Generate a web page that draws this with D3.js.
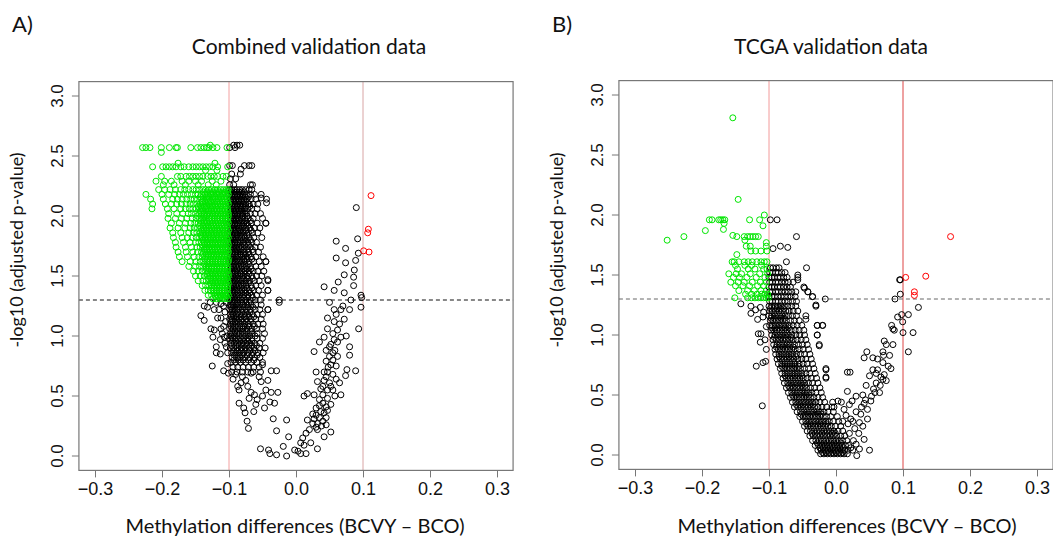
<!DOCTYPE html>
<html>
<head>
<meta charset="utf-8">
<script src="https://cdn.jsdelivr.net/npm/d3@7"></script>
<style>
  body { margin: 0; background: #fff; }
  svg { display: block; }
</style>
</head>
<body>
<div id="chart"></div>
<script>
// tick values shared by both panels
var xTicks = [-0.3, -0.2, -0.1, 0.0, 0.1, 0.2, 0.3];
var yTicks = [0, 0.5, 1, 1.5, 2, 2.5, 3];
var cutX = [-0.1, 0.1];
var cutY = 1.3;

// ---- panel A : combined validation data ----
// rows of points: [y, [x, x, ...]]
var aGreenRows = [
  [2.59, [-0.128]],
  [2.57, [-0.229,-0.224,-0.218,-0.201,-0.189,-0.179,-0.177,-0.157,-0.147,-0.142,-0.137,-0.133,-0.130,-0.124,-0.118,-0.103]],
  [2.53, [-0.201]],
  [2.44, [-0.176,-0.121]],
  [2.41, [-0.214,-0.199,-0.194,-0.189,-0.184,-0.179,-0.172,-0.167,-0.160,-0.154,-0.149,-0.144,-0.139,-0.134,-0.129,-0.124,-0.117,-0.102]],
  [2.38, [-0.135,-0.118]],
  [2.33, [-0.201,-0.177,-0.172,-0.164,-0.159,-0.154,-0.149,-0.144,-0.139,-0.132,-0.127,-0.122,-0.117,-0.109,-0.104]],
  [2.29, [-0.209,-0.196,-0.186,-0.170,-0.160,-0.150,-0.141,-0.125,-0.112]],
  [2.26, [-0.198,-0.182,-0.165,-0.146,-0.131,-0.119]],
  [2.22, [-0.205,-0.196,-0.188,-0.180,-0.172,-0.166,-0.160,-0.154,-0.149,-0.144,-0.139,-0.135,-0.130,-0.126,-0.121,-0.117,-0.112,-0.108,-0.104,-0.101]],
  [2.18, [-0.224,-0.200,-0.190,-0.181,-0.174,-0.168,-0.162,-0.156,-0.150,-0.146,-0.141,-0.136,-0.132,-0.127,-0.123,-0.118,-0.114,-0.109,-0.105,-0.101]],
  [2.14, [-0.217,-0.198,-0.184,-0.177,-0.170,-0.163,-0.157,-0.152,-0.147,-0.142,-0.138,-0.133,-0.129,-0.124,-0.120,-0.116,-0.111,-0.107,-0.103]],
  [2.10, [-0.214,-0.195,-0.186,-0.178,-0.171,-0.164,-0.158,-0.153,-0.148,-0.143,-0.139,-0.134,-0.130,-0.125,-0.121,-0.117,-0.113,-0.109,-0.105,-0.101]],
  [2.06, [-0.215,-0.192,-0.182,-0.172,-0.165,-0.159,-0.154,-0.149,-0.144,-0.140,-0.135,-0.131,-0.127,-0.122,-0.118,-0.114,-0.110,-0.106,-0.102]],
  [2.02, [-0.190,-0.178,-0.169,-0.161,-0.156,-0.150,-0.145,-0.141,-0.137,-0.132,-0.128,-0.124,-0.120,-0.116,-0.112,-0.108,-0.104,-0.101]],
  [1.98, [-0.191,-0.180,-0.171,-0.163,-0.155,-0.149,-0.144,-0.139,-0.135,-0.130,-0.126,-0.122,-0.118,-0.114,-0.110,-0.106,-0.102]],
  [1.94, [-0.186,-0.174,-0.165,-0.157,-0.151,-0.146,-0.141,-0.137,-0.133,-0.128,-0.124,-0.120,-0.116,-0.112,-0.108,-0.104,-0.101]],
  [1.90, [-0.188,-0.176,-0.166,-0.158,-0.152,-0.147,-0.142,-0.138,-0.134,-0.130,-0.126,-0.122,-0.118,-0.114,-0.110,-0.106,-0.102]],
  [1.86, [-0.184,-0.172,-0.160,-0.153,-0.148,-0.143,-0.139,-0.135,-0.131,-0.127,-0.123,-0.119,-0.115,-0.111,-0.107,-0.103]],
  [1.82, [-0.183,-0.170,-0.162,-0.155,-0.149,-0.144,-0.140,-0.136,-0.132,-0.128,-0.124,-0.120,-0.116,-0.112,-0.108,-0.104,-0.101]],
  [1.78, [-0.180,-0.168,-0.158,-0.150,-0.145,-0.141,-0.137,-0.133,-0.129,-0.125,-0.121,-0.117,-0.113,-0.109,-0.105,-0.102]],
  [1.74, [-0.179,-0.165,-0.156,-0.148,-0.143,-0.138,-0.134,-0.130,-0.126,-0.122,-0.118,-0.114,-0.110,-0.106,-0.102]],
  [1.70, [-0.176,-0.164,-0.154,-0.147,-0.141,-0.136,-0.132,-0.128,-0.124,-0.120,-0.116,-0.112,-0.108,-0.104,-0.101]],
  [1.66, [-0.174,-0.162,-0.152,-0.145,-0.140,-0.135,-0.131,-0.127,-0.123,-0.119,-0.115,-0.111,-0.107,-0.103]],
  [1.62, [-0.170,-0.158,-0.149,-0.143,-0.138,-0.133,-0.129,-0.125,-0.121,-0.117,-0.113,-0.109,-0.105,-0.101]],
  [1.58, [-0.160,-0.150,-0.144,-0.139,-0.134,-0.130,-0.126,-0.122,-0.118,-0.114,-0.110,-0.106,-0.102]],
  [1.54, [-0.153,-0.146,-0.140,-0.135,-0.131,-0.127,-0.123,-0.119,-0.115,-0.111,-0.107,-0.103]],
  [1.50, [-0.150,-0.143,-0.137,-0.132,-0.128,-0.124,-0.120,-0.116,-0.112,-0.108,-0.104,-0.101]],
  [1.46, [-0.146,-0.139,-0.134,-0.129,-0.125,-0.121,-0.117,-0.113,-0.109,-0.105,-0.102]],
  [1.42, [-0.140,-0.135,-0.130,-0.126,-0.122,-0.118,-0.114,-0.110,-0.106,-0.102]],
  [1.38, [-0.136,-0.131,-0.127,-0.123,-0.119,-0.115,-0.111,-0.107,-0.103]],
  [1.34, [-0.131,-0.126,-0.121,-0.117,-0.113,-0.109,-0.105,-0.101]],
  [1.31, [-0.124,-0.119,-0.114,-0.110,-0.106,-0.102]]
];

// extra green rows inside the solid core of panel A
var aGreenCore = [
  [2.20, [-0.138,-0.133,-0.128,-0.124,-0.119,-0.115,-0.110,-0.106,-0.102]],
  [2.16, [-0.143,-0.139,-0.134,-0.130,-0.125,-0.121,-0.116,-0.112,-0.107,-0.103]],
  [2.12, [-0.140,-0.136,-0.131,-0.127,-0.122,-0.118,-0.114,-0.110,-0.106,-0.102]],
  [2.08, [-0.146,-0.142,-0.137,-0.133,-0.128,-0.124,-0.120,-0.116,-0.112,-0.108,-0.104]],
  [2.04, [-0.143,-0.139,-0.134,-0.130,-0.126,-0.122,-0.118,-0.114,-0.110,-0.106,-0.102]],
  [2.00, [-0.147,-0.142,-0.137,-0.133,-0.129,-0.125,-0.121,-0.117,-0.113,-0.109,-0.105,-0.101]],
  [1.96, [-0.142,-0.137,-0.133,-0.129,-0.125,-0.121,-0.117,-0.113,-0.109,-0.105,-0.102]],
  [1.92, [-0.144,-0.139,-0.135,-0.131,-0.127,-0.123,-0.119,-0.115,-0.111,-0.107,-0.103]],
  [1.88, [-0.141,-0.137,-0.133,-0.129,-0.125,-0.121,-0.117,-0.113,-0.109,-0.105,-0.101]],
  [1.84, [-0.142,-0.138,-0.134,-0.130,-0.126,-0.122,-0.118,-0.114,-0.110,-0.106,-0.102]],
  [1.80, [-0.139,-0.135,-0.131,-0.127,-0.123,-0.119,-0.115,-0.111,-0.107,-0.103]],
  [1.76, [-0.140,-0.136,-0.132,-0.128,-0.124,-0.120,-0.116,-0.112,-0.108,-0.104,-0.101]],
  [1.72, [-0.137,-0.133,-0.129,-0.125,-0.121,-0.117,-0.113,-0.109,-0.105,-0.102]],
  [1.68, [-0.139,-0.134,-0.130,-0.126,-0.122,-0.118,-0.114,-0.110,-0.106,-0.102]],
  [1.64, [-0.136,-0.132,-0.128,-0.124,-0.120,-0.116,-0.112,-0.108,-0.104,-0.101]],
  [1.60, [-0.137,-0.132,-0.128,-0.124,-0.120,-0.116,-0.112,-0.108,-0.104]],
  [1.56, [-0.134,-0.130,-0.126,-0.122,-0.118,-0.114,-0.110,-0.106,-0.102]],
  [1.52, [-0.133,-0.129,-0.125,-0.121,-0.117,-0.113,-0.109,-0.105,-0.101]],
  [1.48, [-0.131,-0.127,-0.123,-0.119,-0.115,-0.111,-0.107,-0.103]],
  [1.44, [-0.128,-0.124,-0.120,-0.116,-0.112,-0.108,-0.104,-0.101]],
  [1.40, [-0.126,-0.122,-0.118,-0.114,-0.110,-0.106,-0.102]],
  [1.36, [-0.122,-0.118,-0.114,-0.110,-0.106,-0.102]],
  [1.33, [-0.120,-0.116,-0.112,-0.108,-0.104]]
];

var aBlackRows = [
  [2.59, [-0.093,-0.088,-0.084]],
  [2.57, [-0.099,-0.091]],
  [2.42, [-0.099,-0.095,-0.077,-0.070,-0.066]],
  [2.39, [-0.082]],
  [2.35, [-0.096,-0.083]],
  [2.31, [-0.098,-0.090]],
  [2.26, [-0.099,-0.093,-0.068,-0.065]],
  [2.22, [-0.099,-0.096,-0.092,-0.088,-0.084,-0.080,-0.075,-0.070,-0.066]],
  [2.18, [-0.099,-0.095,-0.091,-0.087,-0.083,-0.079,-0.074,-0.068,-0.062,-0.052]],
  [2.14, [-0.098,-0.094,-0.090,-0.086,-0.082,-0.078,-0.073,-0.067,-0.060,-0.044]],
  [2.10, [-0.099,-0.095,-0.091,-0.087,-0.083,-0.079,-0.075,-0.070,-0.064,-0.057]],
  [2.06, [-0.098,-0.094,-0.090,-0.086,-0.082,-0.077,-0.072,-0.066,-0.058]],
  [2.02, [-0.099,-0.095,-0.091,-0.087,-0.083,-0.079,-0.074,-0.068,-0.061,-0.053]],
  [1.98, [-0.098,-0.094,-0.090,-0.086,-0.081,-0.076,-0.071,-0.064,-0.050]],
  [1.94, [-0.099,-0.095,-0.091,-0.087,-0.083,-0.078,-0.073,-0.067,-0.058,-0.045]],
  [1.90, [-0.098,-0.094,-0.090,-0.085,-0.080,-0.075,-0.069,-0.062,-0.054]],
  [1.86, [-0.099,-0.095,-0.091,-0.087,-0.082,-0.077,-0.071,-0.065,-0.057]],
  [1.82, [-0.098,-0.094,-0.090,-0.086,-0.081,-0.076,-0.070,-0.063,-0.051]],
  [1.78, [-0.099,-0.095,-0.091,-0.087,-0.083,-0.078,-0.072,-0.066,-0.059]],
  [1.74, [-0.098,-0.094,-0.090,-0.085,-0.080,-0.074,-0.068,-0.061,-0.053]],
  [1.70, [-0.099,-0.095,-0.091,-0.087,-0.082,-0.077,-0.071,-0.064,-0.056]],
  [1.66, [-0.098,-0.094,-0.089,-0.084,-0.079,-0.073,-0.067,-0.060,-0.049]],
  [1.62, [-0.099,-0.095,-0.091,-0.086,-0.081,-0.076,-0.070,-0.063,-0.055,-0.045]],
  [1.58, [-0.098,-0.094,-0.090,-0.085,-0.080,-0.074,-0.068,-0.060,-0.052]],
  [1.54, [-0.099,-0.095,-0.091,-0.086,-0.081,-0.076,-0.070,-0.064,-0.057,-0.048]],
  [1.50, [-0.098,-0.094,-0.089,-0.084,-0.079,-0.073,-0.066,-0.059,-0.051]],
  [1.46, [-0.099,-0.095,-0.091,-0.086,-0.081,-0.075,-0.069,-0.062,-0.055,-0.042]],
  [1.42, [-0.098,-0.094,-0.090,-0.085,-0.080,-0.074,-0.067,-0.060,-0.052]],
  [1.38, [-0.099,-0.095,-0.091,-0.086,-0.081,-0.076,-0.070,-0.063,-0.056,-0.042]],
  [1.34, [-0.098,-0.094,-0.089,-0.084,-0.078,-0.072,-0.066,-0.059,-0.050]],
  [1.30, [-0.099,-0.095,-0.091,-0.086,-0.081,-0.075,-0.068,-0.061,-0.053,-0.025]],
  [1.26, [-0.098,-0.094,-0.089,-0.084,-0.079,-0.073,-0.067,-0.060,-0.052]],
  [1.22, [-0.099,-0.095,-0.091,-0.086,-0.080,-0.074,-0.068,-0.061,-0.054,-0.042]],
  [1.18, [-0.098,-0.094,-0.089,-0.084,-0.078,-0.072,-0.065,-0.058,-0.050]],
  [1.14, [-0.099,-0.095,-0.090,-0.085,-0.080,-0.074,-0.067,-0.060,-0.052]],
  [1.10, [-0.098,-0.094,-0.089,-0.083,-0.077,-0.071,-0.064,-0.057,-0.049]],
  [1.06, [-0.099,-0.094,-0.089,-0.084,-0.079,-0.073,-0.066,-0.059,-0.050]],
  [1.02, [-0.098,-0.093,-0.088,-0.083,-0.077,-0.071,-0.065,-0.058,-0.047]],
  [0.98, [-0.099,-0.094,-0.089,-0.083,-0.078,-0.072,-0.066,-0.058,-0.050]],
  [0.94, [-0.097,-0.092,-0.087,-0.081,-0.075,-0.069,-0.062,-0.054]],
  [0.90, [-0.098,-0.093,-0.088,-0.082,-0.076,-0.070,-0.063,-0.055,-0.046]],
  [0.86, [-0.096,-0.090,-0.084,-0.078,-0.071,-0.064,-0.057,-0.049]],
  [0.82, [-0.095,-0.089,-0.083,-0.076,-0.069,-0.062,-0.054]],
  [0.78, [-0.097,-0.090,-0.083,-0.075,-0.067,-0.058,-0.050]],
  [0.74, [-0.094,-0.087,-0.079,-0.071,-0.063,-0.055]],
  [0.70, [-0.096,-0.088,-0.080,-0.072,-0.064,-0.053]]
];

// extra black rows inside the dense column of panel A
var aBlackCore = [
  [2.20, [-0.097,-0.093,-0.089,-0.085,-0.081,-0.077]],
  [2.16, [-0.096,-0.092,-0.088,-0.084,-0.080,-0.076,-0.071]],
  [2.12, [-0.097,-0.093,-0.089,-0.085,-0.081,-0.077]],
  [2.08, [-0.096,-0.092,-0.088,-0.084,-0.080,-0.075,-0.069]],
  [2.04, [-0.097,-0.093,-0.089,-0.085,-0.081,-0.076]],
  [2.00, [-0.096,-0.092,-0.088,-0.084,-0.079,-0.073]],
  [1.96, [-0.097,-0.093,-0.089,-0.085,-0.080,-0.075,-0.068]],
  [1.92, [-0.096,-0.092,-0.088,-0.083,-0.078,-0.072]],
  [1.88, [-0.097,-0.093,-0.089,-0.084,-0.079,-0.074,-0.067]],
  [1.84, [-0.096,-0.092,-0.088,-0.083,-0.078,-0.073]],
  [1.80, [-0.097,-0.093,-0.089,-0.084,-0.079,-0.074,-0.068]],
  [1.76, [-0.096,-0.092,-0.088,-0.083,-0.077,-0.071]],
  [1.72, [-0.097,-0.093,-0.088,-0.083,-0.078,-0.072,-0.065]],
  [1.68, [-0.096,-0.092,-0.087,-0.082,-0.076,-0.070]],
  [1.64, [-0.097,-0.093,-0.088,-0.083,-0.078,-0.073,-0.066]],
  [1.60, [-0.096,-0.092,-0.087,-0.082,-0.077,-0.071]],
  [1.56, [-0.097,-0.093,-0.088,-0.083,-0.078,-0.073,-0.067]],
  [1.52, [-0.096,-0.092,-0.087,-0.082,-0.076,-0.070]],
  [1.48, [-0.097,-0.093,-0.088,-0.083,-0.078,-0.072,-0.065]],
  [1.44, [-0.096,-0.092,-0.087,-0.082,-0.077,-0.071]],
  [1.40, [-0.097,-0.093,-0.088,-0.083,-0.078,-0.073,-0.066]],
  [1.36, [-0.096,-0.092,-0.087,-0.081,-0.075,-0.069]],
  [1.32, [-0.097,-0.093,-0.088,-0.083,-0.078,-0.072,-0.065]],
  [1.28, [-0.096,-0.092,-0.087,-0.081,-0.075,-0.070]],
  [1.24, [-0.097,-0.093,-0.088,-0.083,-0.077,-0.071,-0.064]],
  [1.20, [-0.096,-0.092,-0.087,-0.081,-0.075,-0.069]],
  [1.16, [-0.097,-0.093,-0.088,-0.082,-0.076,-0.070,-0.063]],
  [1.12, [-0.096,-0.091,-0.086,-0.080,-0.074,-0.068]],
  [1.08, [-0.097,-0.092,-0.087,-0.081,-0.076,-0.070,-0.062]],
  [1.04, [-0.096,-0.091,-0.086,-0.080,-0.074,-0.068]],
  [1.00, [-0.097,-0.092,-0.086,-0.080,-0.075,-0.069,-0.061]],
  [0.96, [-0.095,-0.090,-0.084,-0.078,-0.072,-0.066]],
  [0.92, [-0.096,-0.090,-0.085,-0.079,-0.073,-0.066,-0.059]],
  [0.88, [-0.093,-0.087,-0.081,-0.074,-0.068,-0.061]],
  [0.84, [-0.092,-0.086,-0.080,-0.073,-0.066,-0.058]],
  [0.80, [-0.093,-0.086,-0.079,-0.071,-0.063]]
];

// scattered black points of panel A: [x, y]
var aBlackPts = [
  [0.090,2.07],[0.092,1.81],[0.060,1.79],[0.074,1.73],[0.060,1.65],[0.074,1.61],[0.093,1.69],[0.089,1.63],
  [0.087,1.55],[0.086,1.49],[0.072,1.51],[0.063,1.45],[0.042,1.41],[0.057,1.38],[0.072,1.36],[0.086,1.42],
  [0.097,1.34],[0.098,1.32],[0.050,1.28],[0.082,1.30],[0.057,1.22],[0.067,1.22],[0.080,1.22],[0.097,1.24],
  [0.047,1.15],[0.057,1.12],[0.072,1.14],[0.0935,1.06],[0.047,1.06],[0.062,1.05],[0.075,1.00],[0.042,0.99],
  [0.057,0.97],[0.067,0.99],[0.035,0.95],[0.050,0.91],[0.080,0.91],[0.055,0.86],[0.062,0.83],[0.080,0.84],
  [0.027,0.87],[0.045,0.79],[0.052,0.76],[0.060,0.75],[0.076,0.72],[0.089,0.71],[0.030,0.70],[0.047,0.70],
  [0.074,0.67],[0.042,0.63],[0.032,0.62],[0.050,0.61],[0.065,0.61],[0.037,0.56],[0.055,0.55],[0.017,0.52],
  [0.027,0.51],[0.040,0.51],[0.067,0.51],[0.047,0.48],[0.012,0.50],[0.035,0.47],[0.052,0.43],[0.030,0.40],
  [0.037,0.37],[0.042,0.36],[0.047,0.38],[0.017,0.30],[0.027,0.31],[0.032,0.27],[0.040,0.29],[0.052,0.20],
  [0.042,0.16],[0.032,0.22],[0.020,0.22],[0.015,0.19],[0.010,0.15],[0.007,0.11],[0.012,0.09],[0.022,0.11],
  [0.032,0.06],[0.003,0.04],[0.007,0.02],[0.015,0.02],[-0.002,0.05],[-0.014,0.00],[-0.029,0.01],[-0.041,0.05],
  [-0.039,0.02],[-0.053,0.06],[-0.019,0.08],[-0.011,0.16],[-0.029,0.21],[-0.034,0.31],[-0.014,0.30],[-0.073,0.29],
  [-0.071,0.23],[0.050,0.83],[0.055,0.80],[0.058,0.88],[0.052,0.93],[0.045,0.88],[0.048,0.74],[0.055,0.68],
  [0.060,0.64],[0.045,0.66],[0.040,0.58],[0.047,0.55],[0.052,0.58],[0.058,0.50],[0.035,0.42],[0.040,0.44],
  [0.045,0.41],[0.030,0.34],[0.035,0.32],[0.025,0.35],[0.038,0.25],[0.030,0.24],[0.025,0.27],[0.045,0.26],
  [0.045,0.32],[0.042,0.70],[0.062,0.95],[0.055,1.02],[0.065,1.10],[0.060,1.18],[0.070,1.25],
  [-0.076,0.36],[-0.078,0.40],[-0.085,0.44],[-0.060,0.43],[-0.063,0.37],[-0.047,0.40],[-0.039,0.45],[-0.032,0.44],
  [-0.027,0.53],[-0.037,0.53],[-0.045,0.55],[-0.029,0.71],[-0.037,0.71],[-0.050,0.76],[-0.042,0.63],[-0.055,0.66],
  [-0.067,0.69],[-0.082,0.61],[-0.087,0.58],[-0.067,0.53],[-0.062,0.51],[-0.072,0.58],[-0.052,0.62],[-0.025,1.28],
  [-0.042,1.22],[-0.042,1.38],[-0.042,1.47],[-0.045,1.62],[-0.045,1.94],[-0.044,2.11],[-0.052,2.15],[-0.080,0.66],
  [-0.090,0.68],[-0.094,0.64],[-0.075,0.63],[-0.085,0.55],[-0.070,0.48],[-0.058,0.47],[-0.050,0.50],
  [-0.142,1.17],[-0.137,1.13],[-0.137,1.25],[-0.127,1.06],[-0.124,0.99],[-0.119,0.91],[-0.119,0.86],[-0.125,0.75],
  [-0.108,0.71],[-0.132,1.24],[-0.122,1.22],[-0.117,1.15],[-0.112,1.06],[-0.107,0.99],[-0.102,0.86],[-0.110,1.02],
  [-0.115,1.22],[-0.119,1.28],[-0.104,1.28],[-0.122,1.05],[-0.104,0.91],[-0.102,0.77],[-0.101,0.69],[-0.128,1.28],
  [-0.112,1.27],[-0.108,1.25],[-0.106,1.20],[-0.112,1.15],[-0.105,1.12],[-0.108,1.08],[-0.113,0.97],[-0.103,1.00],
  [-0.106,0.94],[-0.113,0.85]
];

var aRed = [[0.112,2.17],[0.108,1.89],[0.107,1.86],[0.101,1.71],[0.109,1.70]];

// ---- panel B : TCGA validation data ----
var bGreenPts = [
  [-0.154,2.81],[-0.146,2.13],[-0.252,1.79],[-0.227,1.82],[-0.195,1.87],[-0.189,1.96],[-0.185,1.96],[-0.175,1.96],
  [-0.172,1.96],[-0.169,1.96],[-0.166,1.96],[-0.167,1.93],[-0.168,1.88],[-0.154,1.83],[-0.148,1.82],[-0.129,1.96],
  [-0.114,1.96],[-0.107,2.00],[-0.109,1.91]
];
var bGreenRows = [
  [1.82, [-0.137,-0.132,-0.128,-0.124,-0.120,-0.116]],
  [1.79, [-0.136]],
  [1.77, [-0.104]],
  [1.74, [-0.134,-0.128,-0.104]],
  [1.70, [-0.127,-0.120,-0.112,-0.103]],
  [1.67, [-0.148]],
  [1.61, [-0.155,-0.152,-0.145,-0.137,-0.131,-0.125,-0.118,-0.112,-0.107,-0.103]],
  [1.58, [-0.150,-0.136,-0.126,-0.111]],
  [1.55, [-0.147,-0.131,-0.121,-0.108,-0.103]],
  [1.51, [-0.160,-0.149,-0.141,-0.128,-0.114,-0.102]],
  [1.48, [-0.153,-0.144,-0.133,-0.119,-0.106]],
  [1.44, [-0.157,-0.146,-0.137,-0.125,-0.113,-0.104]],
  [1.41, [-0.150,-0.139,-0.129,-0.117,-0.108]],
  [1.37, [-0.145,-0.132,-0.122,-0.112,-0.104]],
  [1.34, [-0.135,-0.126,-0.118,-0.111,-0.106,-0.102]],
  [1.31, [-0.151,-0.132,-0.126,-0.121,-0.116,-0.112,-0.108,-0.104,-0.101]]
];

var bBlackRows = [
  [1.56, [-0.098,-0.094,-0.089,-0.085]],
  [1.52, [-0.099,-0.095,-0.090,-0.086,-0.081,-0.076]],
  [1.48, [-0.100,-0.096,-0.092,-0.087,-0.083,-0.078,-0.073,-0.057]],
  [1.44, [-0.099,-0.095,-0.090,-0.086,-0.081,-0.076,-0.071,-0.064]],
  [1.40, [-0.100,-0.096,-0.092,-0.087,-0.083,-0.078,-0.073,-0.068,-0.048]],
  [1.36, [-0.099,-0.095,-0.090,-0.086,-0.081,-0.076,-0.071,-0.066,-0.060,-0.042]],
  [1.32, [-0.100,-0.096,-0.092,-0.087,-0.082,-0.077,-0.072,-0.067,-0.061,-0.035]],
  [1.28, [-0.099,-0.095,-0.090,-0.086,-0.081,-0.076,-0.071,-0.065,-0.059]],
  [1.24, [-0.100,-0.096,-0.091,-0.087,-0.082,-0.077,-0.072,-0.066,-0.060,-0.030]],
  [1.20, [-0.099,-0.095,-0.090,-0.085,-0.080,-0.075,-0.070,-0.064,-0.057]],
  [1.16, [-0.100,-0.096,-0.091,-0.086,-0.081,-0.076,-0.071,-0.065,-0.059,-0.045]],
  [1.12, [-0.098,-0.094,-0.089,-0.084,-0.079,-0.074,-0.068,-0.062,-0.055]],
  [1.08, [-0.099,-0.095,-0.090,-0.085,-0.080,-0.075,-0.070,-0.064,-0.058,-0.051,-0.028,-0.020]],
  [1.04, [-0.097,-0.093,-0.088,-0.083,-0.078,-0.073,-0.067,-0.061,-0.055,-0.048]],
  [1.00, [-0.096,-0.091,-0.086,-0.081,-0.076,-0.071,-0.066,-0.060,-0.054,-0.047,-0.028]],
  [0.96, [-0.094,-0.089,-0.084,-0.079,-0.074,-0.069,-0.064,-0.058,-0.052,-0.045]],
  [0.92, [-0.093,-0.088,-0.083,-0.078,-0.073,-0.068,-0.062,-0.056,-0.050,-0.043,-0.025]],
  [0.88, [-0.091,-0.086,-0.081,-0.076,-0.071,-0.066,-0.061,-0.055,-0.049,-0.041]],
  [0.84, [-0.090,-0.085,-0.080,-0.075,-0.070,-0.065,-0.059,-0.053,-0.047,-0.039]],
  [0.80, [-0.088,-0.083,-0.078,-0.073,-0.068,-0.063,-0.057,-0.051,-0.045,-0.037]],
  [0.76, [-0.086,-0.081,-0.076,-0.071,-0.066,-0.061,-0.055,-0.049,-0.043,-0.035]],
  [0.72, [-0.083,-0.078,-0.073,-0.068,-0.063,-0.058,-0.053,-0.047,-0.041,-0.033,-0.015]],
  [0.68, [-0.081,-0.076,-0.071,-0.066,-0.061,-0.056,-0.051,-0.045,-0.039,-0.031]],
  [0.64, [-0.079,-0.074,-0.069,-0.064,-0.059,-0.054,-0.049,-0.043,-0.037,-0.029,-0.015]],
  [0.60, [-0.077,-0.072,-0.067,-0.062,-0.057,-0.052,-0.047,-0.041,-0.035,-0.027]],
  [0.56, [-0.074,-0.069,-0.064,-0.059,-0.054,-0.049,-0.044,-0.038,-0.032,-0.024]],
  [0.52, [-0.071,-0.066,-0.061,-0.056,-0.051,-0.046,-0.041,-0.036,-0.030,-0.022]],
  [0.48, [-0.068,-0.063,-0.058,-0.053,-0.048,-0.043,-0.038,-0.033,-0.027,-0.020]],
  [0.44, [-0.065,-0.060,-0.055,-0.050,-0.045,-0.040,-0.035,-0.030,-0.024,-0.017,-0.005]],
  [0.40, [-0.062,-0.057,-0.052,-0.047,-0.042,-0.037,-0.032,-0.027,-0.021,-0.014,-0.006]],
  [0.36, [-0.058,-0.053,-0.048,-0.043,-0.038,-0.033,-0.028,-0.023,-0.018,-0.012,-0.004]],
  [0.32, [-0.054,-0.049,-0.044,-0.039,-0.034,-0.029,-0.024,-0.019,-0.014,-0.008,0.002]],
  [0.28, [-0.050,-0.045,-0.040,-0.035,-0.030,-0.025,-0.020,-0.015,-0.010,-0.004,0.004]],
  [0.24, [-0.047,-0.042,-0.037,-0.032,-0.027,-0.022,-0.017,-0.012,-0.007,-0.001,0.007]],
  [0.20, [-0.043,-0.038,-0.033,-0.028,-0.023,-0.018,-0.013,-0.008,-0.003,0.003,0.010]],
  [0.16, [-0.039,-0.034,-0.029,-0.024,-0.019,-0.014,-0.009,-0.004,0.001,0.007,0.013]],
  [0.12, [-0.035,-0.030,-0.025,-0.020,-0.015,-0.010,-0.005,0.000,0.005,0.010,0.016]],
  [0.08, [-0.031,-0.026,-0.021,-0.016,-0.011,-0.006,-0.001,0.004,0.009,0.014,0.019]],
  [0.04, [-0.027,-0.022,-0.017,-0.012,-0.007,-0.002,0.003,0.008,0.013,0.018]],
  [0.01, [-0.023,-0.018,-0.013,-0.008,-0.003,0.002,0.007,0.012,0.017]]
];

// extra black rows in the dark core of the panel B band
var bBlackCore = [
  [1.22, [-0.098,-0.093,-0.088,-0.083,-0.078]],
  [1.14, [-0.097,-0.092,-0.087,-0.082,-0.077]],
  [1.06, [-0.096,-0.091,-0.086,-0.081,-0.076,-0.071]],
  [0.98, [-0.092,-0.087,-0.082,-0.077,-0.072,-0.067]],
  [0.90, [-0.089,-0.084,-0.079,-0.074,-0.069,-0.064]],
  [0.82, [-0.085,-0.080,-0.075,-0.070,-0.065,-0.060]],
  [0.74, [-0.081,-0.076,-0.071,-0.066,-0.061,-0.056]],
  [0.66, [-0.076,-0.071,-0.066,-0.061,-0.056,-0.051]],
  [0.58, [-0.071,-0.066,-0.061,-0.056,-0.051,-0.046]],
  [0.50, [-0.065,-0.060,-0.055,-0.050,-0.045,-0.040]],
  [0.42, [-0.059,-0.054,-0.049,-0.044,-0.039,-0.034]],
  [0.34, [-0.052,-0.047,-0.042,-0.037,-0.032,-0.027,-0.022]],
  [0.26, [-0.044,-0.039,-0.034,-0.029,-0.024,-0.019,-0.014]],
  [0.18, [-0.036,-0.031,-0.026,-0.021,-0.016,-0.011,-0.006,-0.001]],
  [0.10, [-0.028,-0.023,-0.018,-0.013,-0.008,-0.003,0.002,0.007]],
  [0.06, [-0.024,-0.019,-0.014,-0.009,-0.004,0.001,0.006,0.011]],
  [0.02, [-0.020,-0.015,-0.010,-0.005,0.000,0.005,0.010]]
];

var bBlackPts = [
  [-0.098,1.96],[-0.088,1.96],[-0.059,1.82],[-0.094,1.72],[-0.083,1.74],[-0.072,1.73],[-0.074,1.61],[-0.044,1.56],
  [-0.057,1.50],[-0.057,1.46],[-0.047,1.39],[-0.042,1.36],[-0.035,1.32],[-0.016,1.30],[-0.030,1.25],[-0.045,1.13],
  [-0.028,1.08],[-0.020,1.08],[-0.028,1.00],[-0.025,0.91],[-0.015,0.71],[-0.015,0.65],[0.017,0.69],[0.021,0.69],
  [0.017,0.53],[0.030,0.49],[0.031,-0.005],[0.050,0.04],
  [-0.142,1.26],[-0.127,1.24],[-0.127,1.18],[-0.120,1.21],[-0.113,1.23],[-0.108,1.19],[-0.119,0.74],[-0.110,0.41],
  [-0.109,0.77],[-0.105,0.78],[-0.116,1.01],[-0.112,1.01],[-0.113,0.94],[-0.106,0.96],[-0.104,0.88],[-0.104,1.07],
  [-0.117,1.13],[-0.109,1.15],
  [0.095,1.46],[0.096,1.46],[0.096,1.34],[0.088,1.30],[0.092,1.15],[0.098,1.17],[0.108,1.17],[0.0995,1.11],
  [0.123,1.23],[0.115,1.02],[0.100,1.02],[0.108,0.86],[0.085,1.05],[0.083,1.08],[0.087,1.04],[0.085,0.92],
  [0.072,0.95],[0.075,0.92],[0.070,0.86],[0.071,0.83],[0.080,0.83],[0.070,0.77],[0.062,0.80],[0.055,0.81],
  [0.046,0.86],[0.042,0.81],[0.055,0.71],[0.062,0.71],[0.072,0.67],[0.075,0.62],[0.070,0.63],[0.065,0.52],
  [0.056,0.55],[0.058,0.52],[0.053,0.49],[0.045,0.58],[0.040,0.50],[0.042,0.43],[0.047,0.38],[0.047,0.30],
  [0.037,0.34],[0.035,0.27],[0.040,0.24],[0.042,0.13],[0.034,0.18],[0.060,0.60],[0.066,0.58],[0.078,0.74],
  [0.082,0.72],[0.050,0.66],[0.060,0.68],[0.067,0.65],[0.044,0.46],[0.052,0.45],[0.038,0.40],[0.030,0.36],
  [0.025,0.28],[0.028,0.22],[0.022,0.30],[0.018,0.26],[0.020,0.18],[0.026,0.12],[0.030,0.09],[0.012,0.38],
  [0.008,0.44],[0.003,0.45],[-0.003,0.40],[0.020,0.42],[0.024,0.45],[0.015,0.33],[0.010,0.28],[0.035,0.05],
  [0.025,0.04],[0.022,0.06]
];

var bRed = [[0.104,1.48],[0.117,1.36],[0.117,1.33],[0.134,1.49],[0.171,1.82]];

function fromRows(rows) {
  var out = [];
  rows.forEach(function(r) {
    r[1].forEach(function(x) { out.push([x, r[0]]); });
  });
  return out;
}

var svg = d3.select("#chart").append("svg")
  .attr("width", 1053)
  .attr("height", 540);

var tickFont = "'Liberation Sans', Arial, sans-serif";
var textFont = "Lato, 'Open Sans', sans-serif";

function drawPanel(p) {
  var x = d3.scaleLinear().domain([-0.3, 0.3]).range([p.x0, p.x1]);
  var y = d3.scaleLinear().domain([0, 3]).range([p.y0, p.y1]);
  var left = x(-0.324), right = x(0.324), top = y(3.12), bottom = y(-0.12);
  var g = svg.append("g");

  // threshold lines
  g.append("line").attr("x1", x(cutX[0])).attr("x2", x(cutX[0]))
    .attr("y1", top).attr("y2", bottom).attr("stroke", p.lineL).attr("stroke-width", 1);
  g.append("line").attr("x1", x(cutX[1])).attr("x2", x(cutX[1]))
    .attr("y1", top).attr("y2", bottom).attr("stroke", p.lineR).attr("stroke-width", 1);
  g.append("line").attr("x1", left).attr("x2", right)
    .attr("y1", y(cutY)).attr("y2", y(cutY))
    .attr("stroke", p.dash).attr("stroke-width", 1).attr("stroke-dasharray", "4,3");

  // points: black first, then coloured on top
  var groups = [[p.black, "#000"], [p.green, "#00e600"], [p.red, "#ff0000"]];
  groups.forEach(function(gr) {
    g.append("g").selectAll("circle").data(gr[0]).join("circle")
      .attr("cx", function(d) { return x(d[0]); })
      .attr("cy", function(d) { return y(d[1]); })
      .attr("r", 3)
      .attr("fill", "none")
      .attr("stroke", gr[1])
      .attr("stroke-width", 1);
  });

  // box
  g.append("rect").attr("x", left).attr("y", top)
    .attr("width", right - left).attr("height", bottom - top)
    .attr("fill", "none").attr("stroke", "#777").attr("stroke-width", 1.2);

  // axes
  var xa = g.append("g").attr("transform", "translate(0," + bottom + ")")
    .call(d3.axisBottom(x).tickValues(xTicks).tickFormat(d3.format(".1f")).tickSize(7).tickPadding(5));
  xa.select(".domain").remove();
  xa.selectAll("line").attr("stroke", "#777");
  xa.selectAll("text").attr("font-family", tickFont).attr("font-size", 18).attr("fill", "#111");

  var ya = g.append("g").attr("transform", "translate(" + left + ",0)")
    .call(d3.axisLeft(y).tickValues(yTicks).tickFormat(d3.format(".1f")).tickSize(7));
  ya.select(".domain").remove();
  ya.selectAll("line").attr("stroke", "#777");
  ya.selectAll("text")
    .attr("font-family", tickFont).attr("font-size", 17).attr("fill", "#111")
    .attr("text-anchor", "middle")
    .attr("x", 0).attr("dy", 0)
    .attr("transform", function(d) { return "translate(" + (-16) + "," + y(d) + ") rotate(-90)"; })
    .attr("y", 0);
  ya.selectAll(".tick").attr("transform", null);
  ya.selectAll(".tick line").attr("y1", function(d) { return y(d); }).attr("y2", function(d) { return y(d); });

  // titles
  svg.append("text").attr("x", p.labelX).attr("y", 32)
    .attr("font-family", textFont).attr("font-size", 22).attr("fill", "#111").text(p.label);
  svg.append("text").attr("x", p.titleX).attr("y", 54).attr("text-anchor", "middle")
    .attr("font-family", textFont).attr("font-size", 21).attr("fill", "#111").text(p.title);
  svg.append("text").attr("x", p.xLabX).attr("y", 533).attr("text-anchor", "middle")
    .attr("font-family", textFont).attr("font-size", 20).attr("fill", "#111")
    .text("Methylation differences (BCVY \u2013 BCO)");
  svg.append("text")
    .attr("transform", "translate(" + p.yLabX + ",250) rotate(-90)")
    .attr("text-anchor", "middle")
    .attr("font-family", textFont).attr("font-size", 18).attr("fill", "#111")
    .text("-log10 (adjusted p-value)");
}

drawPanel({
  x0: 95, x1: 497, y0: 456, y1: 96,
  black: fromRows(aBlackRows).concat(fromRows(aBlackCore), aBlackPts),
  green: fromRows(aGreenRows).concat(fromRows(aGreenCore)),
  red: aRed,
  lineL: "#f3a0a0", lineR: "#d8a4a4", dash: "#111",
  label: "A)", labelX: 12, title: "Combined validation data", titleX: 309,
  xLabX: 295, yLabX: 23
});

drawPanel({
  x0: 635, x1: 1037, y0: 455, y1: 95,
  black: fromRows(bBlackRows).concat(fromRows(bBlackCore), bBlackPts),
  green: bGreenPts.concat(fromRows(bGreenRows)),
  red: bRed,
  lineL: "#f29a9a", lineR: "#dd4444", dash: "#666",
  label: "B)", labelX: 552, title: "TCGA validation data", titleX: 831,
  xLabX: 847, yLabX: 563
});
</script>
</body>
</html>
